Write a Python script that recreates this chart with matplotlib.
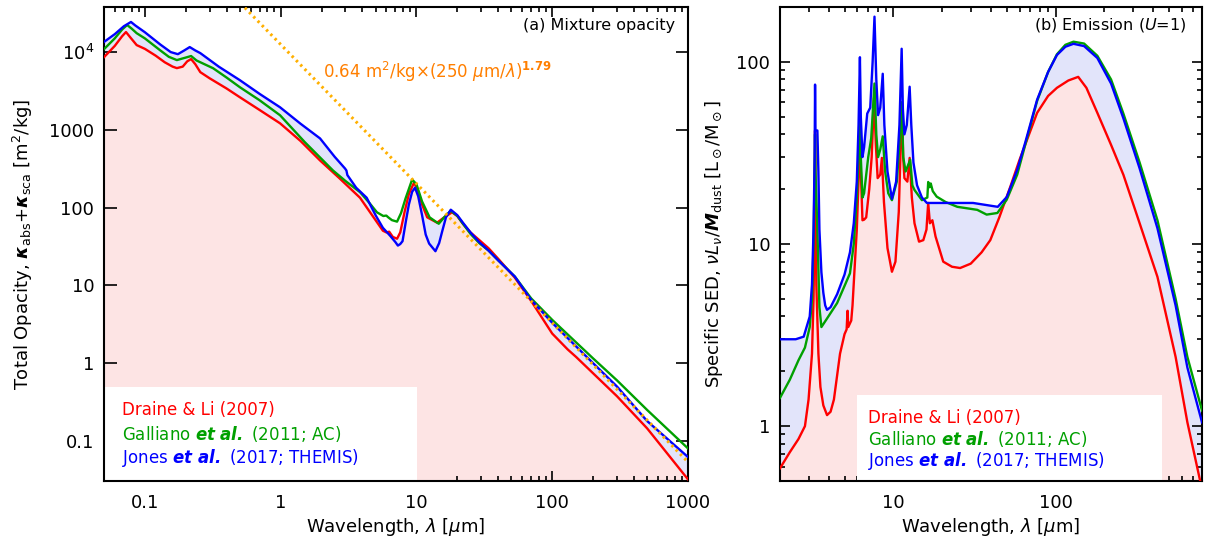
import matplotlib
matplotlib.use("Agg")
import matplotlib.pyplot as plt
import numpy as np
from matplotlib.ticker import LogLocator, FixedLocator, FixedFormatter, NullLocator, NullFormatter
from matplotlib.patches import Rectangle

plt.rcParams["font.family"] = ["DejaVu Sans"]
plt.rcParams["mathtext.fontset"] = "dejavusans"

# (a) total opacity [m2/kg] vs wavelength [um]
lam_dl = [0.05, 0.06, 0.068, 0.0726, 0.078, 0.087, 0.1, 0.12, 0.14, 0.16, 0.172, 0.19, 0.205,
          0.219, 0.235, 0.256, 0.3, 0.4, 0.5, 0.7, 0.99, 1.4, 1.95, 2.7, 3.84, 4.6, 5.66,
          6.0, 6.3, 6.7, 7.2, 7.6, 8.2, 8.8, 9.6, 10.2, 11.0, 12.0, 14.2, 16, 18.3, 20, 22,
          25, 29.4, 34, 40, 53, 70, 100, 130, 150, 300, 500, 1000]
kap_dl = [8600, 12000, 16000, 18100, 15500, 12300, 11000, 9000, 7400, 6500, 6220, 6500, 7600,
          8130, 7000, 5520, 4600, 3400, 2630, 1800, 1213, 720, 404, 240, 134, 85, 50.5,
          48, 49, 42, 39.8, 48, 90, 150, 210, 170, 110, 75, 64, 75, 87, 78, 62,
          48, 37.5, 30, 22, 12.6, 6.3, 2.4, 1.5, 1.2, 0.375, 0.145, 0.032]

lam_ga = [0.05, 0.06, 0.068, 0.074, 0.08, 0.087, 0.1, 0.13, 0.15, 0.172, 0.2, 0.219, 0.24,
          0.318, 0.4, 0.5, 0.7, 0.99, 1.5, 2.43, 3.0, 3.84, 4.5, 5.12, 5.7, 6.0, 6.2, 6.6,
          7.2, 7.7, 8.3, 9.3, 10, 11, 12.5, 14.6, 16, 17.9, 20, 22, 25, 29, 34, 40, 53, 70,
          100, 200, 300, 500, 1000]
kap_ga = [10900, 15000, 19500, 22300, 20000, 17500, 15000, 10500, 8700, 7890, 8500, 8900, 7800,
          6200, 4700, 3540, 2400, 1540, 700, 300, 220, 158, 115, 87, 78, 79, 75, 69,
          66, 85, 130, 230, 200, 120, 75, 62, 75, 91, 78, 62, 46, 35, 28, 21, 13, 6.8,
          3.6, 1.15, 0.6, 0.25, 0.08]

lam_jo = [0.05, 0.06, 0.07, 0.079, 0.085, 0.1, 0.13, 0.155, 0.175, 0.195, 0.214, 0.235, 0.256,
          0.35, 0.5, 0.7, 0.99, 1.4, 1.95, 2.5, 2.98, 3.05, 3.1, 3.6, 4.3, 5.0, 5.66, 6.4,
          7.0, 7.3, 7.6, 7.9, 8.4, 8.8, 9.3, 9.76, 10.3, 11.0, 11.7, 12.4, 13.8, 14.7, 15.5,
          16.5, 17.9, 20, 22, 25, 29, 34, 40, 53, 70, 100, 200, 300, 500, 1000]
kap_jo = [13500, 17000, 21500, 24400, 22000, 18000, 12500, 10000, 9400, 10500, 11600, 10500, 9700,
          6500, 4360, 2900, 1950, 1200, 776, 450, 318, 300, 262, 180, 134, 80, 55, 43.5,
          36, 32.5, 34, 37, 70, 110, 160, 180, 140, 80, 45, 34.5, 27.5, 35, 50,
          75, 94, 80, 64, 48, 36, 28, 21, 13, 6.5, 3.3, 1.0, 0.5, 0.18, 0.062]

# fit shown in panel (a): 0.64 m2/kg x (250 um / lambda)^1.79
lam_fit = np.array([0.3, 1000.0])
kap_fit = 0.64 * (250.0 / lam_fit) ** 1.79

# (b) specific SED [Lsun/Msun] vs wavelength [um]
sl_dl = [2.0, 2.3, 2.6, 2.85, 3.0, 3.15, 3.22, 3.27, 3.29, 3.31, 3.35, 3.45, 3.55, 3.7, 3.9,
         4.1, 4.3, 4.69, 5.0, 5.15, 5.22, 5.27, 5.5, 5.6, 5.75, 5.95, 6.1, 6.22, 6.3, 6.45,
         6.6, 6.8, 7.1, 7.35, 7.6, 7.8, 8.0, 8.3, 8.5, 8.75, 9.2, 9.8, 10.3, 10.8, 11.3,
         11.5, 11.7, 12.2, 12.6, 13.0, 13.5, 14.4, 15.3, 16.0, 16.4, 16.8, 17.4, 18.2, 20.3,
         23, 25.8, 30, 35, 39.6, 45, 52.6, 60, 77, 90, 102, 120, 138, 155, 181, 220, 262,
         330, 425, 550, 650, 800]
sed_dl = [0.587, 0.72, 0.85, 1.0, 1.4, 2.5, 5, 15, 42, 20, 6, 2.5, 1.64, 1.3, 1.15,
          1.2, 1.4, 2.5, 3.2, 3.4, 4.3, 3.5, 3.8, 4.6, 7, 12, 22, 46.8, 25, 13.5,
          13.6, 14, 20, 30, 63.4, 35, 23, 24, 29.7, 17, 9.5, 7.04, 8, 15, 59.7,
          30, 23, 22, 29.7, 18, 13, 10.3, 10.5, 12, 16.8, 13, 13.5, 11, 8.0,
          7.5, 7.38, 7.8, 9, 10.5, 14, 20.6, 29, 52.5, 65, 72, 79, 82.7, 72, 52.5, 35, 24,
          13, 6.6, 2.4, 1.05, 0.45]

sl_ga = [2.0, 2.3, 2.6, 2.85, 3.05, 3.15, 3.22, 3.27, 3.29, 3.31, 3.4, 3.5, 3.6, 3.9, 4.5,
         5.4, 5.7, 5.95, 6.1, 6.22, 6.3, 6.45, 6.6, 7.0, 7.3, 7.65, 7.85, 8.05, 8.3, 8.6,
         8.9, 9.3, 9.8, 10.5, 10.9, 11.25, 11.5, 11.9, 12.7, 13.1, 13.5, 15.0, 16.2, 16.4,
         16.7, 17.0, 17.5, 18.5, 21, 24.8, 32.9, 37.6, 43.8, 50, 58, 65, 77, 90, 102, 115,
         129, 150, 181, 220, 262, 330, 425, 550, 650, 800]
sed_ga = [1.43, 1.8, 2.3, 2.7, 3.5, 5, 10, 25, 40, 25, 12, 4.5, 3.5, 3.9, 4.74,
          6.9, 10, 18, 30, 50, 30, 18, 19, 30, 38, 76, 40, 30, 33, 39,
          25, 19, 17.4, 22, 35, 60, 30, 25, 29, 21, 19.8, 17.4, 18, 21.9,
          20.5, 21.5, 19.5, 18.2, 17, 16, 15.4, 14.5, 14.8, 17.5, 24, 35, 61, 88, 110, 124,
          129, 126, 108, 80, 52, 28, 13.5, 5.0, 2.4, 1.22]

sl_jo = [2.0, 2.5, 2.8, 3.05, 3.15, 3.22, 3.27, 3.29, 3.31, 3.4, 3.45, 3.5, 3.6, 3.7, 3.8,
         3.9, 4.1, 4.5, 5.0, 5.4, 5.7, 5.95, 6.1, 6.22, 6.3, 6.45, 6.6, 6.9, 7.2, 7.45, 7.65,
         7.85, 8.05, 8.3, 8.6, 8.8, 9.2, 9.8, 10.4, 10.9, 11.25, 11.45, 11.7, 12.1, 12.6,
         12.9, 13.3, 14.0, 15, 16.1, 20, 31, 44, 50, 58, 65, 77, 90, 102, 115, 129, 150,
         181, 220, 262, 330, 425, 550, 650, 800]
sed_jo = [3.0, 3.0, 3.1, 4.0, 6, 12, 30, 75, 42, 42, 25, 12, 7, 5.4, 4.6,
          4.35, 4.5, 5.3, 6.8, 9, 13, 22, 45, 106, 50, 30, 34, 52, 56, 100, 177,
          80, 51, 56, 86, 45, 25, 17.7, 22, 45, 118, 55, 40, 45, 73,
          45, 28, 21, 18, 16.8, 16.8, 16.8, 16.0, 18.1, 25.5, 36, 62, 88, 109, 121, 125.6, 122,
          105, 76, 49, 26, 12.2, 4.6, 2.1, 1.05]

labels = [r"Draine & Li (2007)",
          r"Galliano $\mathbfit{et\ al.}$ (2011; AC)",
          r"Jones $\mathbfit{et\ al.}$ (2017; THEMIS)"]
colors = ["#ff0000", "#00a000", "#0000ff"]
pink = "#fde4e4"
lav = "#e2e4fa"

fig = plt.figure(figsize=(12.05, 5.46), dpi=100)
ax1 = fig.add_axes([104 / 1205, 1 - 481 / 546, 584 / 1205, 474 / 546])
ax2 = fig.add_axes([780 / 1205, 1 - 481 / 546, 422 / 1205, 474 / 546])


def panel(ax, x_r, y_r, x_g, y_g, x_b, y_b, box):
    ax.fill_between(x_r, y_r, 1e-4, color=pink, lw=0, zorder=1)
    ax.fill(np.concatenate([x_r, x_b[::-1]]), np.concatenate([y_r, y_b[::-1]]),
            color=lav, lw=0, zorder=1)
    ax.add_patch(Rectangle(box[0], box[1], box[2], transform=ax.transAxes,
                           facecolor="white", edgecolor="none", zorder=2))
    ax.plot(x_r, y_r, color=colors[0], lw=1.7, zorder=3)
    ax.plot(x_g, y_g, color=colors[1], lw=1.7, zorder=3)
    ax.plot(x_b, y_b, color=colors[2], lw=1.7, zorder=3)
    ax.set_xscale("log")
    ax.set_yscale("log")
    for s in ax.spines.values():
        s.set_linewidth(1.5)
    ax.tick_params(which="both", direction="in", top=True, right=True, labelsize=13, width=1.2)
    ax.tick_params(which="major", length=7, pad=7)
    ax.tick_params(which="minor", length=3.5)
    ax.tick_params(axis="x", which="major", pad=9)
    ax.set_xlabel(r"Wavelength, $\lambda$ [$\mu$m]", fontsize=13, labelpad=3)


# panel (a)
panel(ax1, np.array(lam_dl), np.array(kap_dl), np.array(lam_ga), np.array(kap_ga),
      np.array(lam_jo), np.array(kap_jo), ((0, 0), 0.536, 0.198))
ax1.plot(lam_fit, kap_fit, color="#ffb000", lw=2.2, ls=(0, (0.8, 1.2)), zorder=4)
ax1.set_xlim(0.05, 1000)
ax1.set_ylim(0.0305, 3.8e4)
ax1.xaxis.set_major_locator(FixedLocator([0.1, 1, 10, 100, 1000]))
ax1.xaxis.set_major_formatter(FixedFormatter(["0.1", "1", "10", "100", "1000"]))
ax1.xaxis.set_minor_locator(LogLocator(subs=np.arange(2, 10), numticks=20))
ax1.xaxis.set_minor_formatter(NullFormatter())
ax1.yaxis.set_major_locator(FixedLocator([0.1, 1, 10, 100, 1000, 1e4]))
ax1.yaxis.set_major_formatter(FixedFormatter(["0.1", "1", "10", "100", "1000", r"10$^4$"]))
ax1.yaxis.set_minor_locator(NullLocator())
ax1.tick_params(axis="y", which="major", length=9)
ax1.set_ylabel(r"Total Opacity, $\boldsymbol{\kappa}_{\rm abs}$+$\boldsymbol{\kappa}_{\rm sca}$ [m$^2$/kg]",
               fontsize=13, labelpad=10)
ax1.text(0.978, 0.962, "(a) Mixture opacity", transform=ax1.transAxes, ha="right",
         va="center", fontsize=11.5)
ax1.text(2.05, 5500, r"0.64 m$^2$/kg$\times$(250 $\mu$m/$\lambda$)$^{\mathbf{1.79}}$",
         color="#ff7f00", fontsize=12, ha="left", va="center", zorder=5)
for k, (lab, c) in enumerate(zip(labels, colors)):
    ax1.text(0.031, 0.150 - 0.051 * k, lab, color=c, transform=ax1.transAxes,
             ha="left", va="center", fontsize=12, zorder=5)

# panel (b)
panel(ax2, np.array(sl_dl), np.array(sed_dl), np.array(sl_ga), np.array(sed_ga),
      np.array(sl_jo), np.array(sed_jo), ((0.182, 0), 0.723, 0.181))
ax2.set_xlim(2, 800)
ax2.set_ylim(0.5, 200)
ax2.xaxis.set_major_locator(FixedLocator([10, 100]))
ax2.xaxis.set_major_formatter(FixedFormatter(["10", "100"]))
ax2.xaxis.set_minor_locator(LogLocator(subs=np.arange(2, 10), numticks=20))
ax2.xaxis.set_minor_formatter(NullFormatter())
ax2.yaxis.set_major_locator(FixedLocator([1, 10, 100]))
ax2.yaxis.set_major_formatter(FixedFormatter(["1", "10", "100"]))
ax2.yaxis.set_minor_locator(LogLocator(subs=np.arange(2, 10), numticks=20))
ax2.yaxis.set_minor_formatter(NullFormatter())
ax2.set_ylabel(r"Specific SED, $\nu L_\nu/\mathbfit{M}_{\rm dust}$ [L$_\odot$/M$_\odot$]",
               fontsize=13, labelpad=8)
ax2.text(0.964, 0.962, r"(b) Emission ($U$=1)", transform=ax2.transAxes, ha="right",
         va="center", fontsize=11.5)
for k, (lab, c) in enumerate(zip(labels, colors)):
    ax2.text(0.209, 0.133 - 0.045 * k, lab, color=c, transform=ax2.transAxes,
             ha="left", va="center", fontsize=12, zorder=5)

fig.savefig("out.png", dpi=100)
